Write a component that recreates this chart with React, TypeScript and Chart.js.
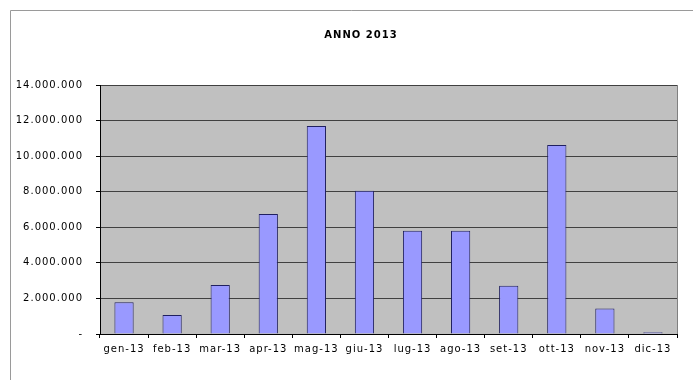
import React, { useEffect, useRef } from "react";
import { Chart, registerables } from "chart.js";

Chart.register(...registerables);

const chartTitle = "ANNO 2013";
const categories = [
  "gen-13", "feb-13", "mar-13", "apr-13", "mag-13", "giu-13",
  "lug-13", "ago-13", "set-13", "ott-13", "nov-13", "dic-13",
];
const values = [
  1780000, 1070000, 2750000, 6740000, 11690000, 8050000,
  5800000, 5800000, 2710000, 10620000, 1440000, 100000,
];
const yMin = 0;
const yMax = 14000000;
const yStep = 2000000;

function formatTick(v: number): string {
  if (v === 0) return "-";
  return String(Math.round(v)).replace(/\B(?=(\d{3})+(?!\d))/g, ".");
}

const FONT = '"DejaVu Sans", Verdana, sans-serif';

const decor = {
  id: "decor",
  beforeLayout(chart: any) {
    chart.ctx.letterSpacing = "1px";
  },
  beforeDraw(chart: any) {
    const { ctx, chartArea: a } = chart;
    ctx.letterSpacing = "1px";
    ctx.save();
    ctx.fillStyle = "#ffffff";
    ctx.fillRect(0, 0, chart.width, chart.height);
    ctx.fillStyle = "#c0c0c0";
    ctx.fillRect(a.left, a.top, a.right - a.left, a.bottom - a.top);
    ctx.restore();
  },
  afterDraw(chart: any) {
    const { ctx, chartArea: a } = chart;
    ctx.save();
    // outer frame
    ctx.strokeStyle = "#9a9a9a";
    ctx.lineWidth = 1;
    ctx.beginPath();
    ctx.moveTo(10.5, chart.height);
    ctx.lineTo(10.5, 10.5);
    ctx.lineTo(chart.width, 10.5);
    ctx.stroke();
    // plot area right border
    ctx.strokeStyle = "#808080";
    ctx.beginPath();
    ctx.moveTo(Math.round(a.right) + 0.5, a.top);
    ctx.lineTo(Math.round(a.right) + 0.5, a.bottom);
    ctx.stroke();
    // title
    ctx.fillStyle = "#000000";
    ctx.font = "bold 10px " + FONT;
    ctx.textAlign = "center";
    ctx.textBaseline = "middle";
    ctx.fillText(chartTitle, 361, 35);
    ctx.restore();
  },
};

export default function App() {
  const ref = useRef<HTMLCanvasElement | null>(null);

  useEffect(() => {
    if (!ref.current) return;
    const chart = new Chart(ref.current, {
      type: "bar",
      data: {
        labels: categories,
        datasets: [
          {
            data: values,
            backgroundColor: "#9999ff",
            borderColor: "#202060",
            borderWidth: 1,
            barPercentage: 0.4,
            categoryPercentage: 1,
          },
        ],
      },
      options: {
        responsive: false,
        devicePixelRatio: 1,
        animation: false,
        layout: { padding: { top: 85, right: 16, left: 0, bottom: 0 } },
        plugins: {
          legend: { display: false },
          tooltip: { enabled: false },
          title: { display: false },
        },
        scales: {
          x: {
            afterFit: (s: any) => {
              s.height = 46;
            },
            grid: {
              display: true,
              drawOnChartArea: false,
              drawTicks: true,
              tickLength: 4,
              tickColor: "#000000",
              offset: true,
            },
            border: { display: true, color: "#000000", width: 1 },
            ticks: {
              color: "#000000",
              font: { family: FONT, size: 10 },
              padding: 5,
              autoSkip: false,
              maxRotation: 0,
              minRotation: 0,
            },
          },
          y: {
            min: yMin,
            max: yMax,
            afterFit: (s: any) => {
              s.width = 100;
            },
            grid: {
              color: "#404040",
              lineWidth: 1,
              drawTicks: true,
              tickLength: 4,
              tickColor: "#000000",
            },
            border: { display: true, color: "#000000", width: 1 },
            ticks: {
              stepSize: yStep,
              color: "#000000",
              font: { family: FONT, size: 10 },
              padding: 13,
              callback: (v: any) => formatTick(Number(v)),
            },
          },
        },
      },
      plugins: [decor],
    });
    return () => chart.destroy();
  }, []);

  return (
    <div style={{ position: "fixed", left: 0, top: 0, width: 693, height: 380, background: "#fff" }}>
      <canvas ref={ref} width={693} height={380} style={{ display: "block", width: 693, height: 380 }} />
    </div>
  );
}
